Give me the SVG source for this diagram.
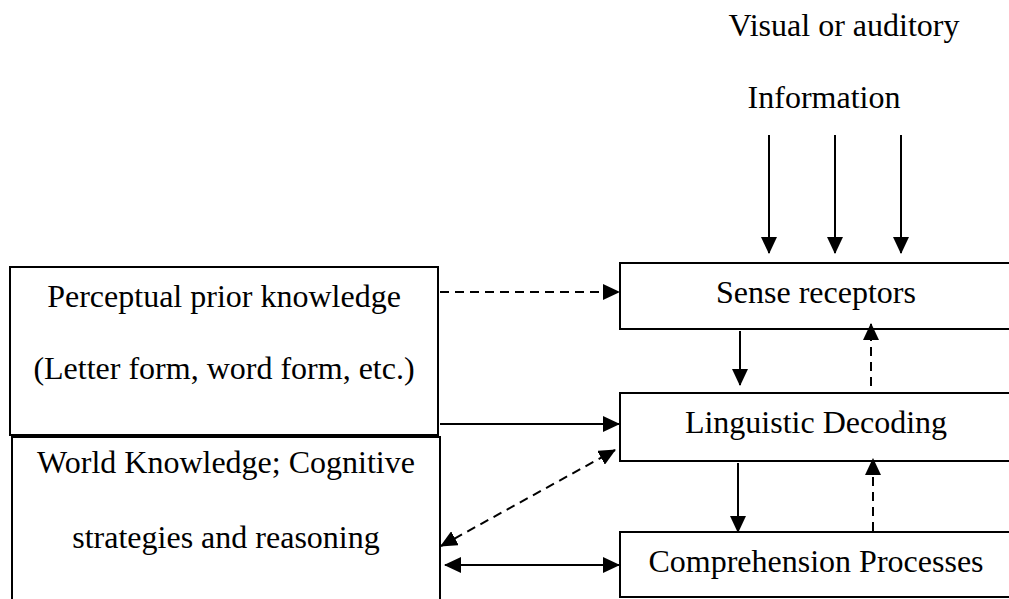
<svg xmlns="http://www.w3.org/2000/svg" width="1009" height="599" viewBox="0 0 1009 599">
<style>
.box{fill:#fff;stroke:#000;stroke-width:2}
.t{font-family:"Liberation Serif","Times New Roman",serif;font-size:32px;fill:#000;text-anchor:middle}
.c{stroke:#000;stroke-width:2;fill:none}
.d{stroke-dasharray:9 6}
</style>
<defs>
<marker id="ah" markerUnits="userSpaceOnUse" markerWidth="17" markerHeight="16" refX="16" refY="8" orient="auto-start-reverse" viewBox="0 0 17 16">
<path d="M0,0 L17,8 L0,16 z" fill="#000"/>
</marker>
</defs>
<rect width="1009" height="599" fill="#fff"/>
<g id="input-label">
<text class="t" x="844" y="36">Visual or auditory</text>
<text class="t" x="824" y="108">Information</text>
</g>
<g id="perceptual">
<rect class="box" x="10" y="267" width="428" height="168"/>
<text class="t" x="224" y="307">Perceptual prior knowledge</text>
<text class="t" x="224" y="379">(Letter form, word form, etc.)</text>
</g>
<g id="world">
<rect class="box" x="12" y="437" width="428" height="170"/>
<text class="t" x="226" y="473">World Knowledge; Cognitive</text>
<text class="t" x="226" y="548">strategies and reasoning</text>
</g>
<g id="sense">
<rect class="box" x="620" y="263" width="400" height="66"/>
<text class="t" x="816" y="303">Sense receptors</text>
</g>
<g id="linguistic">
<rect class="box" x="620" y="393" width="400" height="68"/>
<text class="t" x="816" y="433">Linguistic Decoding</text>
</g>
<g id="comprehension">
<rect class="box" x="620" y="532" width="400" height="65"/>
<text class="t" x="816" y="572">Comprehension Processes</text>
</g>
<g id="connectors">
<line class="c" x1="769" y1="135" x2="769" y2="253" marker-end="url(#ah)"/>
<line class="c" x1="835" y1="135" x2="835" y2="253" marker-end="url(#ah)"/>
<line class="c" x1="901" y1="135" x2="901" y2="253" marker-end="url(#ah)"/>
<line class="c d" x1="440" y1="292" x2="619" y2="292" marker-end="url(#ah)"/>
<line class="c" x1="440" y1="424" x2="619" y2="424" marker-end="url(#ah)"/>
<line class="c d" x1="441" y1="546" x2="615" y2="450" marker-start="url(#ah)" marker-end="url(#ah)"/>
<line class="c" x1="445" y1="565" x2="619" y2="565" marker-start="url(#ah)" marker-end="url(#ah)"/>
<line class="c" x1="740" y1="331" x2="740" y2="385" marker-end="url(#ah)"/>
<line class="c d" x1="871" y1="386" x2="871" y2="324" marker-end="url(#ah)"/>
<line class="c" x1="738" y1="463" x2="738" y2="532" marker-end="url(#ah)"/>
<line class="c d" x1="873" y1="531" x2="873" y2="459" marker-end="url(#ah)"/>
</g>
</svg>
